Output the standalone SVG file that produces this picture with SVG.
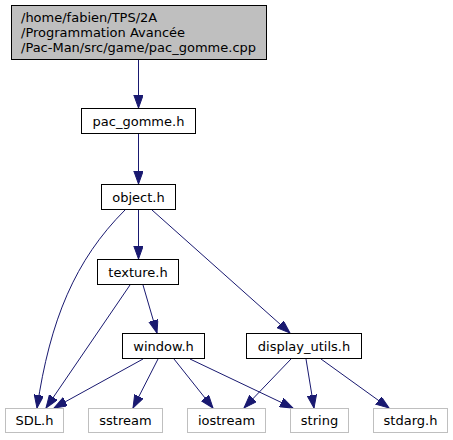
<svg xmlns="http://www.w3.org/2000/svg" width="453" height="440" viewBox="0 0 453 440">
<style>
  .n rect { fill: #ffffff; stroke: #000000; stroke-width: 1; }
  .g rect { fill: #ffffff; stroke: #bfbfbf; stroke-width: 1; }
  .root rect { fill: #bfbfbf; stroke: #000000; stroke-width: 1; }
  text { font-family: "DejaVu Sans", "Liberation Sans", sans-serif; font-size: 13px; fill: #000000; }
  .c { text-anchor: middle; }
  #edges path { fill: none; stroke: #191970; stroke-width: 1; marker-end: url(#ah); }
</style>
<defs>
  <marker id="ah" markerUnits="userSpaceOnUse" markerWidth="14" markerHeight="10" refX="13" refY="4.7" orient="auto">
    <path d="M0,0 L13,4.7 L0,9.4 Z" fill="#191970" stroke="#191970" stroke-width="1"/>
  </marker>
</defs>
<rect x="0" y="0" width="453" height="440" fill="#ffffff"/>
<g id="edges">
  <path d="M138.5,60 L138.5,108"/>
  <path d="M138.5,134 L138.5,184"/>
  <path d="M138.5,210 L138.5,259"/>
  <path d="M125,210 C 75,260 50,320 37,408"/>
  <path d="M152,210 L290,333"/>
  <path d="M130,285 L46,408"/>
  <path d="M143,285 L157,333"/>
  <path d="M143,359 L54,408"/>
  <path d="M158,359 L133,408"/>
  <path d="M174,359 L213,408"/>
  <path d="M190,359 L293,408"/>
  <path d="M291,359 L244,408"/>
  <path d="M306,359 L314,408"/>
  <path d="M321,359 L389,408"/>
</g>
<g id="node_root" class="root">
  <rect x="11.5" y="5.5" width="255" height="54"/>
  <text x="21" y="21.5">/home/fabien/TPS/2A</text>
  <text x="21" y="36.5">/Programmation Avancée</text>
  <text x="21" y="51.5">/Pac-Man/src/game/pac_gomme.cpp</text>
</g>
<g id="node_pac_gomme_h" class="n">
  <rect x="81.5" y="108.5" width="114" height="25"/>
  <text class="c" x="138.5" y="125.5">pac_gomme.h</text>
</g>
<g id="node_object_h" class="n">
  <rect x="101.5" y="184.5" width="74" height="25"/>
  <text class="c" x="138.5" y="201.5">object.h</text>
</g>
<g id="node_texture_h" class="n">
  <rect x="97.5" y="259.5" width="81" height="25"/>
  <text class="c" x="138" y="276.5">texture.h</text>
</g>
<g id="node_window_h" class="n">
  <rect x="122.5" y="333.5" width="82" height="25"/>
  <text class="c" x="163.5" y="350.5">window.h</text>
</g>
<g id="node_display_utils_h" class="n">
  <rect x="246.5" y="333.5" width="115" height="25"/>
  <text class="c" x="304" y="350.5">display_utils.h</text>
</g>
<g id="node_SDL_h" class="g">
  <rect x="5.5" y="408.5" width="58" height="24"/>
  <text class="c" x="34.5" y="425">SDL.h</text>
</g>
<g id="node_sstream" class="g">
  <rect x="88.5" y="408.5" width="74" height="24"/>
  <text class="c" x="125.5" y="425">sstream</text>
</g>
<g id="node_iostream" class="g">
  <rect x="187.5" y="408.5" width="78" height="24"/>
  <text class="c" x="226.5" y="425">iostream</text>
</g>
<g id="node_string" class="g">
  <rect x="290.5" y="408.5" width="58" height="24"/>
  <text class="c" x="319.5" y="425">string</text>
</g>
<g id="node_stdarg_h" class="g">
  <rect x="373.5" y="408.5" width="74" height="24"/>
  <text class="c" x="410.5" y="425">stdarg.h</text>
</g>
</svg>
